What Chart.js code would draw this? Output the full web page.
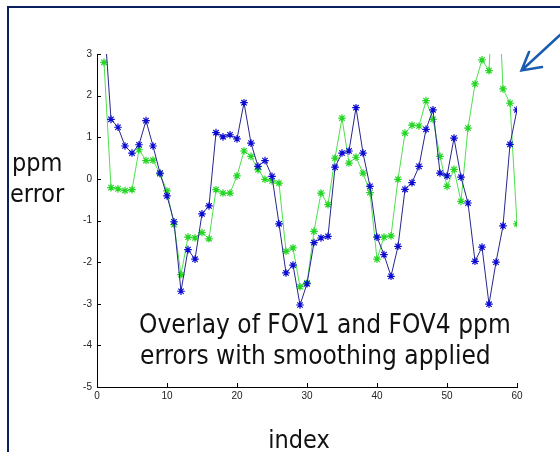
<!DOCTYPE html>
<html>
<head>
<meta charset="utf-8">
<script src="https://cdn.jsdelivr.net/npm/chart.js"></script>
<style>
  html, body { margin: 0; padding: 0; background: #fff; }
  canvas { display: block; }
</style>
</head>
<body>
<canvas id="myChart" width="560" height="452"></canvas>
<script>
  // sample index and smoothed ppm errors for the two fields of view
  var index = [1, 2, 3, 4, 5, 6, 7, 8, 9, 10, 11, 12, 13, 14, 15, 16, 17, 18, 19, 20,
    21, 22, 23, 24, 25, 26, 27, 28, 29, 30, 31, 32, 33, 34, 35, 36, 37, 38, 39, 40,
    41, 42, 43, 44, 45, 46, 47, 48, 49, 50, 51, 52, 53, 54, 55, 56, 57, 58, 59, 60];

  var fov1 = [3.9, 1.43, 1.24, 0.79, 0.62, 0.82, 1.40, 0.79, 0.14, -0.41,
    -1.03, -2.70, -1.70, -1.93, -0.84, -0.65, 1.11, 1.01, 1.06, 0.96,
    1.83, 0.86, 0.30, 0.44, 0.06, -1.08, -2.26, -2.07, -3.03, -2.52,
    -1.53, -1.42, -1.38, 0.28, 0.62, 0.67, 1.71, 0.62, -0.18, -1.40,
    -1.82, -2.34, -1.62, -0.25, -0.09, 0.30, 1.19, 1.66, 0.14, 0.07,
    0.98, 0.04, -0.58, -1.98, -1.64, -3.01, -2.00, -1.13, 0.83, 1.66];

  var fov4 = [2.80, -0.21, -0.24, -0.28, -0.26, 0.70, 0.44, 0.45, 0.12, -0.29,
    -1.10, -2.30, -1.40, -1.42, -1.29, -1.44, -0.26, -0.34, -0.34, 0.07,
    0.67, 0.54, 0.22, -0.01, -0.05, -0.10, -1.74, -1.66, -2.59, -2.50,
    -1.26, -0.34, -0.62, 0.50, 1.46, 0.38, 0.52, 0.14, -0.33, -1.93,
    -1.40, -1.37, -0.01, 1.10, 1.29, 1.27, 1.88, 1.43, 0.54, -0.18,
    0.23, -0.54, 1.22, 2.28, 2.86, 2.60, 6.0, 2.16, 1.82, -1.08];

  var xTicks = [0, 10, 20, 30, 40, 50, 60];
  var yTicks = [-5, -4, -3, -2, -1, 0, 1, 2, 3];

  function points(vals) {
    return index.map(function (x, i) { return { x: x, y: vals[i] }; });
  }

  var faces = "'DejaVu Sans Condensed', 'DejaVu Sans', sans-serif";

  // inward tick marks, axis captions, the note, frame and arrow
  var decor = {
    id: 'decor',
    afterDraw: function (chart) {
      var c = chart.ctx, a = chart.chartArea;
      var xs = chart.scales.x, ys = chart.scales.y;
      c.save();

      c.strokeStyle = '#000';
      c.lineWidth = 1;
      c.beginPath();
      xTicks.forEach(function (t) {
        var px = Math.round(xs.getPixelForValue(t)) + 0.5;
        c.moveTo(px, a.bottom);
        c.lineTo(px, a.bottom - 4);
      });
      yTicks.forEach(function (t) {
        var py = Math.round(ys.getPixelForValue(t)) + 0.5;
        c.moveTo(a.left, py);
        c.lineTo(a.left + 4, py);
      });
      c.stroke();

      c.fillStyle = '#111';
      c.textBaseline = 'alphabetic';
      c.textAlign = 'left';
      c.font = '25px ' + faces;
      c.fillText('ppm', 12, 171);
      c.fillText('error', 10, 202);
      c.font = '26px ' + faces;
      c.fillText('Overlay of FOV1 and FOV4 ppm', 139, 333);
      c.fillText('errors with smoothing applied', 140, 364);
      c.font = '25px ' + faces;
      c.textAlign = 'center';
      c.fillText('index', 299, 448);

      // frame
      c.strokeStyle = '#0b1f5e';
      c.lineWidth = 2;
      c.beginPath();
      c.moveTo(8, 452);
      c.lineTo(8, 7);
      c.lineTo(560, 7);
      c.stroke();

      // arrow
      c.strokeStyle = '#1a5cb0';
      c.lineWidth = 2.5;
      c.lineCap = 'round';
      c.beginPath();
      c.moveTo(560, 35);
      c.lineTo(521.5, 70.5);
      c.moveTo(529, 52);
      c.lineTo(521.5, 70.5);
      c.lineTo(542, 67);
      c.stroke();

      c.restore();
    }
  };

  var ctx = document.getElementById('myChart');

  new Chart(ctx, {
    type: 'line',
    data: {
      datasets: [{
        label: 'FOV1',
        data: points(fov1),
        borderColor: '#26268c',
        borderWidth: 1,
        pointStyle: 'star',
        pointRadius: 3.8,
        pointBorderColor: '#0a0ad2',
        pointBackgroundColor: '#0a0ad2',
        pointBorderWidth: 1.2,
        tension: 0
      },
      {
        label: 'FOV4',
        data: points(fov4),
        borderColor: '#4ee04e',
        borderWidth: 1,
        pointStyle: 'star',
        pointRadius: 3.8,
        pointBorderColor: '#22d622',
        pointBackgroundColor: '#22d622',
        pointBorderWidth: 1.2,
        tension: 0
      }]
    },
    options: {
      responsive: false,
      animation: false,
      events: [],
      layout: { padding: { left: 7, top: 54, right: 43, bottom: 45 } },
      plugins: {
        legend: { display: false },
        tooltip: { enabled: false }
      },
      scales: {
        x: {
          type: 'linear',
          min: 0,
          max: 60,
          afterBuildTicks: function (s) { s.ticks = xTicks.map(function (v) { return { value: v }; }); },
          afterFit: function (s) { s.height = 20; },
          grid: { display: false, drawTicks: false },
          border: { display: true, color: '#000', width: 1 },
          ticks: { color: '#222', padding: 3, maxRotation: 0, font: { size: 10, family: 'Liberation Sans' } }
        },
        y: {
          type: 'linear',
          min: -5,
          max: 3,
          afterBuildTicks: function (s) { s.ticks = yTicks.map(function (v) { return { value: v }; }); },
          afterFit: function (s) { s.width = 90; },
          grid: { display: false, drawTicks: false },
          border: { display: true, color: '#000', width: 1 },
          ticks: { color: '#222', padding: 5, font: { size: 10, family: 'Liberation Sans' } }
        }
      }
    },
    plugins: [decor]
  });
</script>
</body>
</html>
